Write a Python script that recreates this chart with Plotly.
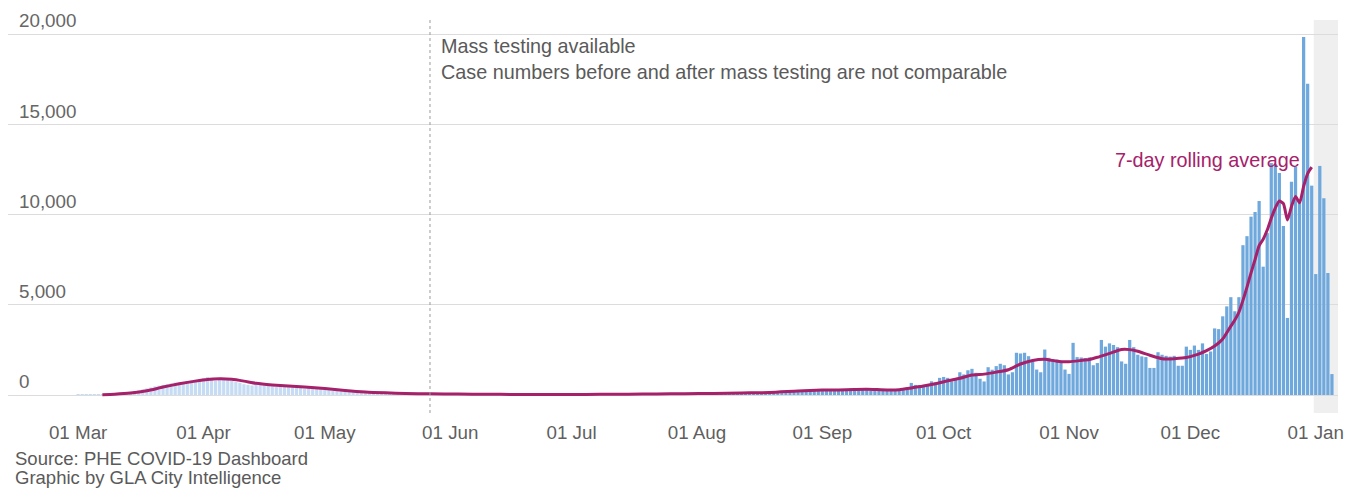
import pandas as pd
import plotly.graph_objects as go

# ---------------- data ----------------
MAR = [5, 8, 10, 15, 20, 30, 40, 55, 70, 85, 100, 120, 150, 180, 220, 260, 310, 370,
       420, 480, 520, 560, 600, 650, 690, 640, 700, 780, 800, 850, 880]
APR = [920, 1000, 960, 780, 880, 850, 830, 780, 720, 680, 600, 560, 530, 620, 600,
       560, 520, 480, 440, 500, 490, 470, 440, 420, 400, 350, 380, 400, 370, 340]
MAY = [300, 270, 240, 220, 200, 180, 170, 160, 150, 140, 130, 120, 110, 105, 100, 100,
       95, 90, 85, 80, 75, 70, 65, 60, 60, 55, 55, 50, 50, 50, 48]
JUN = [48, 45, 50, 42, 38, 30, 28, 44, 42, 40, 38, 35, 28, 25, 40, 38, 36, 35, 32, 24,
       22, 35, 34, 30, 32, 28, 22, 20, 34, 36]
JUL = [38, 40, 36, 28, 26, 42, 48, 46, 44, 45, 35, 32, 55, 58, 55, 52, 58, 42, 40, 62,
       68, 66, 70, 72, 52, 50, 78, 84, 88, 86, 80]
AUG = [70, 65, 105, 115, 112, 118, 120, 95, 90, 128, 135, 132, 138, 145, 105, 100, 155,
       165, 160, 220, 200, 180, 175, 250, 260, 270, 280, 290, 240, 220, 300]
SEP = [310, 290, 300, 320, 250, 230, 330, 360, 380, 340, 300, 310, 230, 220, 280, 290,
       300, 320, 280, 330, 380, 420, 670, 560, 540, 560, 580, 760, 700, 950]
OCT = [1000, 950, 760, 850, 1260, 1140, 1370, 1450, 1230, 900, 750, 1540, 1400, 1600,
       1730, 1650, 1140, 1260, 2340, 2300, 2340, 2150, 1870, 1410, 1260, 2520, 2060,
       2000, 1970, 1780, 1410]
NOV = [1170, 2890, 2100, 2080, 2050, 2080, 1650, 1770, 3050, 2680, 2860, 2770, 2650,
       1860, 1730, 3050, 2650, 2230, 2140, 2100, 1500, 1500, 2370, 2230, 2170, 2130,
       2170, 1620, 1620, 2680]
DEC = [2500, 2740, 2500, 2860, 2280, 2410, 3690, 3650, 4360, 4910, 5420, 4640, 5420,
       8300, 8800, 9880, 10140, 10750, 7110, 8970, 12850, 12800, 12300, 9360, 4270,
       11820, 12650, 10700, 19830, 17250, 11600]
JAN = [6700, 12690, 10900, 6760, 1160]

FIRST_DAY = "2020-03-01"
MASS_TESTING_DATE = "2020-05-27"

# 7-day rolling average line
AVG_DATES = ["2020-03-07", "2020-03-10", "2020-03-14", "2020-03-18", "2020-03-22",
             "2020-03-26", "2020-03-30", "2020-04-02", "2020-04-05", "2020-04-08",
             "2020-04-11", "2020-04-14", "2020-04-18", "2020-04-22", "2020-04-26",
             "2020-05-01", "2020-05-06", "2020-05-11", "2020-05-16", "2020-05-21",
             "2020-05-27", "2020-06-03", "2020-06-10", "2020-06-17", "2020-06-24",
             "2020-07-01", "2020-07-08", "2020-07-15", "2020-07-22", "2020-07-29",
             "2020-08-05", "2020-08-12", "2020-08-19", "2020-08-26", "2020-09-01",
             "2020-09-05", "2020-09-09", "2020-09-12", "2020-09-17", "2020-09-20",
             "2020-09-23", "2020-09-26", "2020-09-29", "2020-10-02", "2020-10-05",
             "2020-10-08", "2020-10-11", "2020-10-14", "2020-10-17", "2020-10-20",
             "2020-10-23", "2020-10-26", "2020-10-29", "2020-11-01", "2020-11-04",
             "2020-11-06", "2020-11-08", "2020-11-11", "2020-11-14", "2020-11-16",
             "2020-11-18", "2020-11-21", "2020-11-24", "2020-11-27", "2020-11-29",
             "2020-12-01", "2020-12-03", "2020-12-05", "2020-12-07", "2020-12-09",
             "2020-12-11", "2020-12-12", "2020-12-13", "2020-12-14", "2020-12-15",
             "2020-12-16", "2020-12-17", "2020-12-18", "2020-12-19", "2020-12-20",
             "2020-12-21", "2020-12-22", "2020-12-23", "2020-12-24", "2020-12-25",
             "2020-12-26", "2020-12-27", "2020-12-28", "2020-12-29", "2020-12-30",
             "2020-12-31"]
AVG_VALUES = [18, 45, 110, 235, 440, 620, 770, 860, 895, 870, 770, 650, 560, 495, 440,
              360, 250, 165, 118, 90, 64, 49, 38, 34, 30, 30, 38, 46, 55, 71,
              90, 117, 138, 222, 273, 284, 310, 321, 276, 289, 386, 494, 624, 786, 924,
              1111, 1157, 1267, 1401, 1717, 1914, 1979, 1870, 1844, 1914, 1969, 2089,
              2306, 2521, 2514, 2420, 2200, 2010, 2010, 2044, 2127, 2261, 2454, 2711,
              3107, 3817, 4154, 4584, 5243, 5980, 6770, 7510, 8280, 8630, 9140, 9790,
              10360, 10750, 10600, 9700, 10450, 11000, 10650, 11560, 12270, 12620]

Y_TICKS = [0, 5000, 10000, 15000, 20000]

# ---------------- styles ----------------
BAR_DARK = "#6fa8dc"
BAR_LIGHT = "#c6dcf4"
MAGENTA = "#a6206a"
FONT = "Liberation Sans, Arial, Helvetica, sans-serif"

cases = MAR + APR + MAY + JUN + JUL + AUG + SEP + OCT + NOV + DEC + JAN
dates = pd.date_range(FIRST_DAY, periods=len(cases), freq="D")
cutoff = pd.Timestamp(MASS_TESTING_DATE)
colors = [BAR_LIGHT if d < cutoff else BAR_DARK for d in dates]

fig = go.Figure()
fig.add_trace(go.Bar(x=dates, y=cases, marker=dict(color=colors, line=dict(width=0)),
                     hoverinfo="x+y"))
fig.add_trace(go.Scatter(x=pd.to_datetime(AVG_DATES), y=AVG_VALUES, mode="lines",
                         line=dict(color=MAGENTA, width=3, shape="spline", smoothing=0.6),
                         hoverinfo="x+y"))

# shaded region of incomplete data
fig.add_vrect(x0="2020-12-31 12:00", x1="2021-01-06 12:00", fillcolor="#efefef",
              line_width=0, layer="below")
# mass testing marker
fig.add_shape(type="line", xref="x", yref="paper", x0=MASS_TESTING_DATE,
              x1=MASS_TESTING_DATE, y0=0, y1=1,
              line=dict(color="#9a9a9a", width=1, dash="dot"))

fig.add_annotation(x=MASS_TESTING_DATE, y=20030, xref="x", yref="y", xanchor="left",
                   yanchor="top", xshift=9, align="left", showarrow=False,
                   text="Mass testing available<br>Case numbers before and after mass testing are not comparable",
                   font=dict(size=19.8, color="#5a5a5a", family=FONT))
fig.add_annotation(x="2020-12-28 12:00", y=13020, xref="x", yref="y", xanchor="right",
                   yanchor="middle", showarrow=False, text="7-day rolling average",
                   font=dict(size=19.8, color=MAGENTA, family=FONT))
fig.add_annotation(x=0, y=0, xref="paper", yref="paper", xanchor="left",
                   yanchor="middle", xshift=5, yshift=-45, showarrow=False,
                   text="Source: PHE COVID-19 Dashboard",
                   font=dict(size=18.5, color="#5a5a5a", family=FONT))
fig.add_annotation(x=0, y=0, xref="paper", yref="paper", xanchor="left",
                   yanchor="middle", xshift=5, yshift=-64, showarrow=False,
                   text="Graphic by GLA City Intelligence",
                   font=dict(size=18.5, color="#5a5a5a", family=FONT))

fig.update_layout(
    width=1357, height=488,
    margin=dict(l=8, r=19, t=20, b=75),
    plot_bgcolor="white", paper_bgcolor="white",
    showlegend=False, bargap=0.2,
    font=dict(family=FONT, color="#666666"),
    xaxis=dict(type="date", range=["2020-02-12 16:00", "2021-01-06 12:00"],
               tick0=FIRST_DAY, dtick="M1", tickformat="%d %b",
               showgrid=False, zeroline=False, showline=False, ticks="",
               ticklabelstandoff=6,
               tickfont=dict(size=18.8, color="#5f5f5f", family=FONT)),
    yaxis=dict(range=[-997, 20776], tickvals=Y_TICKS, tickformat=",",
               ticklabelposition="inside top", ticklabeloverflow="allow",
               ticklabelstandoff=8,
               showgrid=True, gridcolor="#dcdcdc", gridwidth=1, zeroline=False,
               showline=False, ticks="",
               tickfont=dict(size=18.8, color="#666666", family=FONT)),
)

fig.write_html("out.html", include_plotlyjs=True, config={"displayModeBar": False},
               post_script="document.body.style.margin='0';")
